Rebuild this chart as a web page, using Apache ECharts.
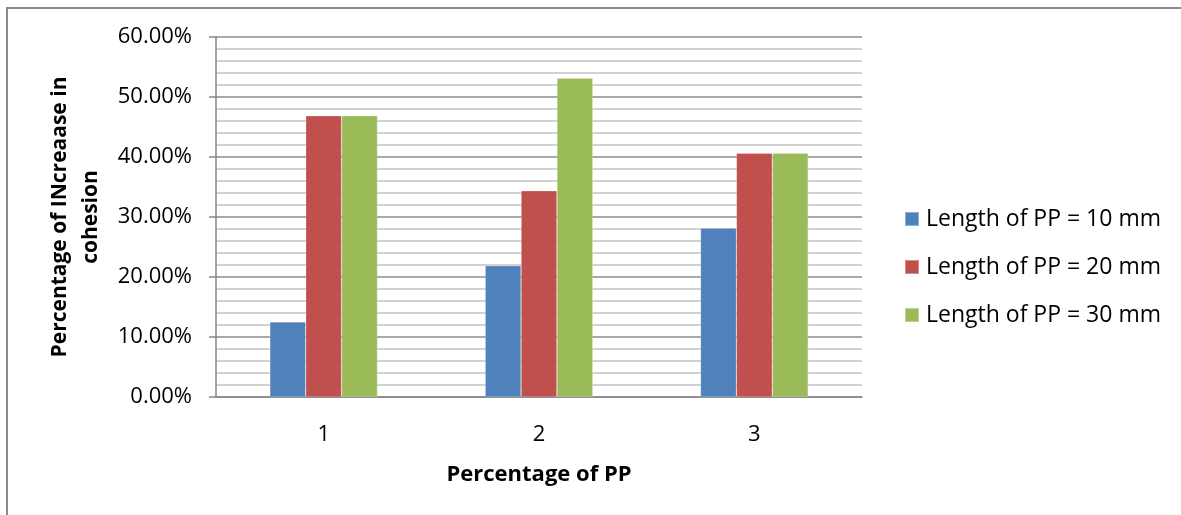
<!DOCTYPE html>
<html>
<head>
<meta charset="utf-8">
<script src="https://cdn.jsdelivr.net/npm/echarts@6/dist/echarts.min.js"></script>
<style>
  html, body { margin: 0; padding: 0; background: #fff; }
  #chart { width: 1181px; height: 515px; }
</style>
</head>
<body>
<div id="chart"></div>
<script>
// Percentage of PP on the category axis
var categories = ['1', '2', '3'];

// Increase in cohesion (fraction) for each fibre length
var len10mm = [0.125, 0.21875, 0.28125];
var len20mm = [0.46875, 0.34375, 0.40625];
var len30mm = [0.46875, 0.53125, 0.40625];

var seriesNames = ['Length of PP = 10 mm', 'Length of PP = 20 mm', 'Length of PP = 30 mm'];
var seriesColors = ['#4F81BD', '#C0504D', '#9BBB59'];

var yMin = 0, yMax = 0.6, yStep = 0.1;

var FONT = '"Open Sans", "Liberation Sans", sans-serif';

var chart = echarts.init(document.getElementById('chart'), null, { renderer: 'canvas' });

function bar(name, data, color) {
  return {
    name: name,
    type: 'bar',
    data: data,
    barGap: '0%',
    barCategoryGap: '50%',
    itemStyle: { color: color, borderColor: 'rgba(255,255,255,0.35)', borderWidth: 0.6 }
  };
}

chart.setOption({
  animation: false,
  backgroundColor: '#ffffff',
  textStyle: { fontFamily: FONT },
  graphic: [{
    type: 'rect',
    shape: { x: 7, y: 8, width: 1300, height: 700 },
    style: { fill: 'none', stroke: '#8a8a8a', lineWidth: 2 },
    silent: true
  }],
  grid: { left: 216, right: 319, top: 37, bottom: 118, containLabel: false },
  legend: {
    orient: 'vertical',
    left: 899,
    top: 202,
    itemWidth: 14,
    itemHeight: 14,
    itemGap: 24,
    icon: 'rect',
    data: seriesNames,
    textStyle: { fontFamily: FONT, fontSize: 23, color: '#000', lineHeight: 24, padding: [0, 0, 0, 2] }
  },
  xAxis: {
    type: 'category',
    data: categories,
    name: 'Percentage of PP',
    nameLocation: 'middle',
    nameGap: 67,
    nameTextStyle: { fontFamily: FONT, fontSize: 22, fontWeight: 'bold', color: '#000' },
    axisLine: { lineStyle: { color: '#868686', width: 1.5 } },
    axisTick: { show: false },
    axisLabel: { fontFamily: FONT, fontSize: 22, color: '#000', margin: 27 }
  },
  yAxis: {
    type: 'value',
    min: yMin,
    max: yMax,
    interval: yStep,
    name: 'Percentage of INcreaase in\ncohesion',
    nameLocation: 'middle',
    nameGap: 106,
    nameRotate: 90,
    nameTextStyle: { fontFamily: FONT, fontSize: 21, fontWeight: 'bold', color: '#000', lineHeight: 31 },
    axisLine: { show: true, lineStyle: { color: '#868686', width: 1.5 } },
    axisTick: { show: true, length: 7, lineStyle: { color: '#868686', width: 1.5 } },
    axisLabel: {
      fontFamily: FONT, fontSize: 22, color: '#000', margin: 24,
      formatter: function (v) { return (v * 100).toFixed(2) + '%'; }
    },
    splitLine: { show: true, lineStyle: { color: '#8c8c8c', width: 1.5 } },
    minorTick: { show: false, splitNumber: 5 },
    minorSplitLine: { show: true, lineStyle: { color: '#c4c4c4', width: 1.5 } }
  },
  series: [
    bar(seriesNames[0], len10mm, seriesColors[0]),
    bar(seriesNames[1], len20mm, seriesColors[1]),
    bar(seriesNames[2], len30mm, seriesColors[2])
  ]
});
</script>
</body>
</html>
